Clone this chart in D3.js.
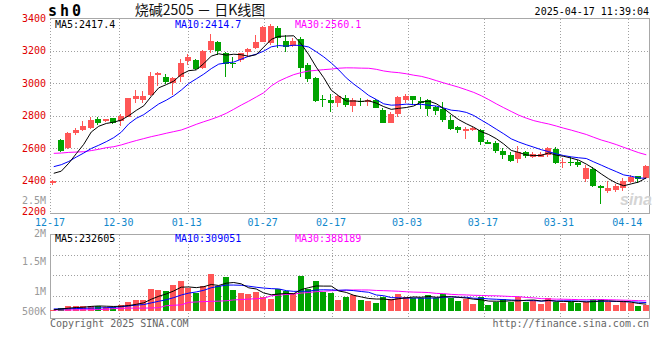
<!DOCTYPE html>
<html><head><meta charset="utf-8">
<script src="https://cdn.jsdelivr.net/npm/d3@7/dist/d3.min.js"></script>
<style>body{margin:0;background:#fff}svg{display:block}</style>
</head><body><svg id="c" width="660" height="360"></svg>
<script>
// ---------------- DATA ----------------
const dates = ["12-17","12-18","12-19","12-20","12-23","12-24","12-25","12-26","12-27","12-30",
"12-31","01-02","01-03","01-06","01-07","01-08","01-09","01-10","01-13","01-14",
"01-15","01-16","01-17","01-20","01-21","01-22","01-23","01-24","01-27","02-05",
"02-06","02-07","02-10","02-11","02-12","02-13","02-14","02-17","02-18","02-19",
"02-20","02-21","02-24","02-25","02-26","02-27","02-28","03-03","03-04","03-05",
"03-06","03-07","03-10","03-11","03-12","03-13","03-14","03-17","03-18","03-19",
"03-20","03-21","03-24","03-25","03-26","03-27","03-28","03-31","04-01","04-02",
"04-03","04-07","04-08","04-09","04-10","04-11","04-14","04-15","04-16","04-17"];
const open = [2385,2650,2600,2695,2712,2725,2780,2765,2784,2768,
2795,2903,2900,2928,3050,3037,3000,3037,3140,3144,
3093,3206,3253,3185,3128,3145,3195,3216,3258,3247,
3340,3261,3230,3274,3112,3030,2901,2897,2877,2908,
2862,2891,2883,2897,2835,2757,2811,2897,2922,2891,
2897,2852,2840,2774,2733,2706,2712,2712,2640,2630,
2585,2558,2531,2578,2547,2548,2558,2596,2507,2517,
2517,2410,2471,2367,2338,2342,2352,2393,2428,2418];
const high = [2405,2655,2697,2725,2768,2790,2790,2783,2786,2810,
2912,2960,2955,3072,3068,3058,3037,3150,3180,3148,
3205,3305,3262,3195,3160,3190,3216,3298,3352,3365,
3355,3298,3280,3288,3123,3041,2928,2934,2928,2928,
2910,2910,2903,2903,2850,2823,2920,2934,2924,2914,
2903,2862,2887,2805,2736,2733,2733,2718,2650,2644,
2600,2578,2613,2580,2574,2578,2605,2605,2537,2547,
2527,2496,2482,2372,2398,2378,2418,2433,2430,2496];
const low = [2370,2575,2595,2680,2705,2718,2745,2760,2752,2738,
2792,2878,2880,2922,2986,2998,2930,3010,3113,3082,
3088,3186,3175,3038,3096,3130,3165,3212,3255,3237,
3216,3191,3222,3037,3010,2887,2856,2825,2856,2856,
2825,2860,2858,2845,2753,2753,2790,2877,2866,2842,
2800,2805,2763,2712,2696,2657,2703,2620,2625,2572,
2533,2513,2511,2537,2537,2543,2548,2503,2480,2487,
2482,2393,2358,2256,2325,2332,2338,2385,2385,2410];
const close = [2396,2580,2692,2714,2737,2775,2758,2778,2755,2800,
2910,2922,2920,3045,3065,3007,3030,3128,3160,3090,
3200,3262,3200,3118,3118,3185,3212,3253,3350,3356,
3278,3222,3261,3097,3027,2893,2895,2877,2922,2866,
2895,2882,2897,2850,2757,2811,2914,2922,2897,2878,
2842,2832,2774,2718,2713,2718,2722,2640,2627,2585,
2555,2523,2578,2552,2562,2562,2600,2507,2517,2508,
2497,2480,2368,2352,2356,2367,2398,2425,2410,2487];
const volume = [156000,197000,253000,253000,253000,253000,253000,222000,222000,278000,
343000,400000,400000,660000,643000,626000,765000,862000,684000,562000,
740000,1033000,740000,967000,643000,577000,546000,602000,480000,424000,
667000,619000,562000,991000,660000,870000,602000,562000,400000,480000,
521000,400000,375000,334000,480000,416000,546000,480000,440000,440000,
521000,440000,546000,440000,375000,424000,302000,480000,278000,358000,
424000,358000,465000,358000,383000,302000,440000,358000,334000,358000,
334000,358000,416000,416000,358000,278000,358000,319000,253000,278000];
// moving-average values on the days before a full window exists
const ma5Head = [2445,2458,2507,2566];
const ma10Head = [2486,2498,2518,2545,2570,2598,2618,2640,2665];
const ma30Head = [2568,2570,2574,2576,2578,2585,2593,2603,2609,2620,2634,2647,2659,2671,2681,
2692,2702,2712,2729,2747,2763,2778,2795,2815,2840,2866,2890,2916,2942];
const vma5Head = [160000,180000,200000,215000];
const vma10Head = [180000,180000,185000,190000,195000,200000,205000,210000,220000];
const vma30Head = [155000,155000,155000,158000,160000,162000,165000,170000,190000,195000,200000,200000,200000,205000,210000,
260000,270000,280000,340000,350000,360000,365000,370000,380000,400000,410000,420000,430000,440000];
const priceTicks = [3400,3200,3000,2800,2600,2400,2200];
const priceTickLabels = ["3400","3200","3000","2800","2600","2400","2200"];
const dateTicks = ["12-17","12-30","01-13","01-27","02-17","03-03","03-17","03-31","04-14"];
const volGrid = [500000,1000000,1500000];
const volTickLabels = ["2.5M","2M","1.5M","1M","500K"];
const headerMA = ["MA5:2417.4","MA10:2414.7","MA30:2560.1"];
const volHeaderMA = ["MA5:232605","MA10:309051","MA30:388189"];
const title = "烧碱2505 － 日K线图";
const code = "sh0";
const stamp = "2025-04-17 11:39:04";

// ---------------- LAYOUT ----------------
const svg = d3.select("#c");
const RED="#ff5656", GREEN="#00a300", GRID="#a0a0a0", BORDER="#a8a8a8";
const MONO="'DejaVu Sans Mono', monospace";
const L=50, R=649;
const n = dates.length;
const x = d3.scaleBand().domain(d3.range(n)).range([50,650]).paddingInner(0.2).paddingOuter(0.1);
const cx = i => x(i) + x.bandwidth()/2;
const gx = d3.scaleLinear().domain([0, n-1]).range([51, 651]); // date grid positions
const y = d3.scaleLinear().domain([2200,3400]).range([213,18.5]);
const vy = d3.scaleLinear().domain([130000,2000000]).range([311,234.3]);
const volTop = 234.5, volBot = 318.5;
const volLabelY = [200,233,261,291,311];

function ma(vals, k, head){ return vals.map((v,i)=> i<k-1 ? head[i] : d3.mean(vals.slice(i-k+1,i+1))); }
const ma5 = ma(close,5,ma5Head), ma10 = ma(close,10,ma10Head), ma30 = ma(close,30,ma30Head);
const vma5 = ma(volume,5,vma5Head), vma10 = ma(volume,10,vma10Head), vma30 = ma(volume,30,vma30Head);

const px = v => Math.round(v)+0.5;

// header
svg.append("text").attr("x",48).attr("y",16).attr("font-family",MONO).attr("font-weight","bold")
  .attr("font-size",15).attr("letter-spacing",3).attr("fill","#000").text(code);
svg.append("text").attr("x",200).attr("y",15).attr("text-anchor","middle")
  .attr("font-family","'Noto Sans CJK SC'").attr("font-size",14).attr("fill","#111").text(title);
svg.append("text").attr("x",649).attr("y",15).attr("text-anchor","end").attr("font-family",MONO)
  .attr("font-size",10).attr("fill","#000").text(stamp);

// main grid
const g = svg.append("g").attr("shape-rendering","crispEdges");
priceTicks.slice(1,-1).forEach(v=>{
  g.append("line").attr("x1",L).attr("x2",R).attr("y1",px(y(v))).attr("y2",px(y(v)))
   .attr("stroke",GRID).attr("stroke-dasharray","1,2");
});
dateTicks.forEach(d=>{
  const i = dates.indexOf(d), xx = px(gx(i));
  if(i>0){
    g.append("line").attr("x1",xx).attr("x2",xx).attr("y1",19).attr("y2",213).attr("stroke",GRID).attr("stroke-dasharray","1,2");
    g.append("line").attr("x1",xx).attr("x2",xx).attr("y1",volTop).attr("y2",volBot).attr("stroke",GRID).attr("stroke-dasharray","1,2");
  }
});
volGrid.forEach(v=>{
  g.append("line").attr("x1",L).attr("x2",R).attr("y1",px(vy(v))).attr("y2",px(vy(v)))
   .attr("stroke",GRID).attr("stroke-dasharray","1,2");
});
// borders
g.append("line").attr("x1",L).attr("x2",R+1).attr("y1",18.5).attr("y2",18.5).attr("stroke",BORDER);
g.append("line").attr("x1",L).attr("x2",R+1).attr("y1",213.5).attr("y2",213.5).attr("stroke",BORDER);
g.append("line").attr("x1",50.5).attr("x2",50.5).attr("y1",19).attr("y2",213).attr("stroke",GRID).attr("stroke-dasharray","1,2");
g.append("line").attr("x1",R+0.5).attr("x2",R+0.5).attr("y1",18).attr("y2",214).attr("stroke",BORDER);
g.append("line").attr("x1",L).attr("x2",R+1).attr("y1",volTop).attr("y2",volTop).attr("stroke",BORDER);
g.append("line").attr("x1",L).attr("x2",R+1).attr("y1",volBot).attr("y2",volBot).attr("stroke",BORDER);
g.append("line").attr("x1",50.5).attr("x2",50.5).attr("y1",volTop).attr("y2",volBot).attr("stroke",BORDER);
g.append("line").attr("x1",R+0.5).attr("x2",R+0.5).attr("y1",volTop).attr("y2",volBot).attr("stroke",BORDER);

// axis labels
const yl = svg.append("g").attr("font-family",MONO).attr("font-size",10);
priceTicks.forEach((v,k)=>{
  yl.append("text").attr("x",46).attr("y",Math.max(y(v),17) - (k===priceTicks.length-1?2:0)).attr("dy","0.35em").attr("text-anchor","end")
    .attr("fill","#e00000").text(priceTickLabels[k]);
});
volTickLabels.forEach((t,k)=>{
  yl.append("text").attr("x",46).attr("y",volLabelY[k]).attr("dy","0.35em").attr("text-anchor","end")
    .attr("fill","#9a9a9a").text(t);
});
dateTicks.forEach(d=>{
  const i = dates.indexOf(d);
  yl.append("text").attr("x",gx(i)-1).attr("y",222).attr("dy","0.35em").attr("text-anchor","middle")
    .attr("fill","#1188cc").text(d);
});

// watermark
svg.append("text").attr("x",620).attr("y",205).attr("font-family","'Liberation Sans'").attr("font-style","italic")
  .attr("font-weight","bold").attr("font-size",16).attr("fill","#d4d4d4").text("sina");

// candles
const cg = svg.append("g").attr("shape-rendering","crispEdges");
d3.range(n).forEach(i=>{
  const up = close[i] >= open[i], col = up?RED:GREEN;
  const c = Math.floor(cx(i));
  cg.append("rect").attr("x",c-1).attr("width",1).attr("y",y(high[i])).attr("height",Math.max(1,y(low[i])-y(high[i]))).attr("fill",col);
  const t = y(Math.max(open[i],close[i])), b = y(Math.min(open[i],close[i]));
  cg.append("rect").attr("x",c-3).attr("width",6).attr("y",t).attr("height",Math.max(1,b-t)).attr("fill",col);
  cg.append("rect").attr("x",c-3).attr("width",6).attr("y",vy(volume[i])).attr("height",Math.max(1,vy.range()[0]-vy(volume[i]))).attr("fill",col);
});

// MA lines
const lineP = d3.line().x((d,i)=>cx(i)).y(d=>y(d));
const lineV = d3.line().x((d,i)=>cx(i)).y(d=>vy(d));
[[ma30,"#ff00ff"],[ma10,"#0000ff"],[ma5,"#000000"]].forEach(([s,c])=>
  svg.append("path").attr("d",lineP(s)).attr("fill","none").attr("stroke",c).attr("stroke-width",1));
[[vma30,"#ff00ff"],[vma10,"#0000ff"],[vma5,"#000000"]].forEach(([s,c])=>
  svg.append("path").attr("d",lineV(s)).attr("fill","none").attr("stroke",c).attr("stroke-width",1));

// legends
const lg = svg.append("g").attr("font-family",MONO).attr("font-size",10);
const lcol = ["#000","#0000ff","#ff00ff"], lx = [55,175,295];
headerMA.forEach((t,k)=>lg.append("text").attr("x",lx[k]).attr("y",27.5).attr("fill",lcol[k]).text(t));
volHeaderMA.forEach((t,k)=>lg.append("text").attr("x",lx[k]).attr("y",242).attr("fill",lcol[k]).text(t));

// footer
lg.append("text").attr("x",50).attr("y",326.5).attr("fill","#666").text("Copyright 2025 SINA.COM");
lg.append("text").attr("x",649).attr("y",326.5).attr("text-anchor","end").attr("fill","#666").text("http://finance.sina.com.cn");
</script></body></html>
